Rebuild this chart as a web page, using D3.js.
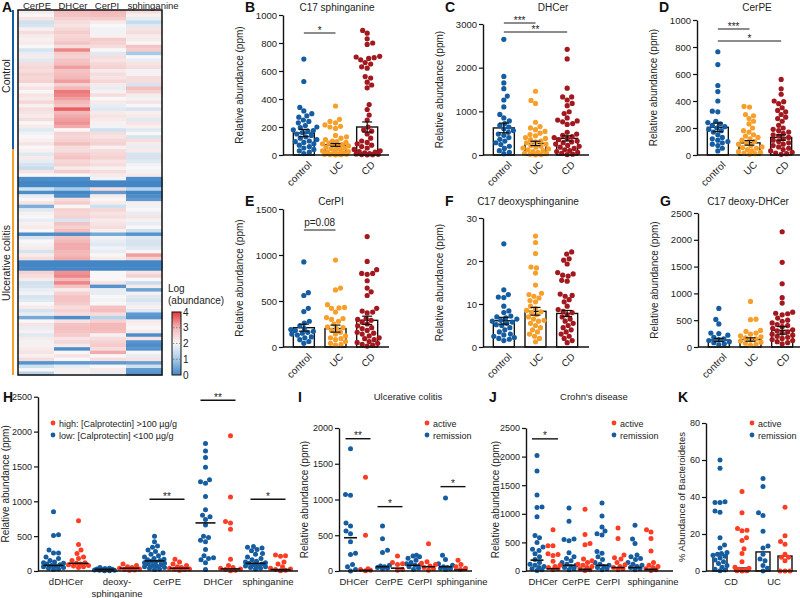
<!DOCTYPE html>
<html><head><meta charset="utf-8">
<script src="https://cdn.jsdelivr.net/npm/d3@7"></script>
<style>body{margin:0;background:#fff}svg{font-family:"Liberation Sans",Arial,Helvetica,sans-serif}</style>
</head><body><svg id="c" width="800" height="598"></svg>
<script>
// ---------------- DATA ----------------
const heatColumns = ["CerPE","DHCer","CerPI","sphinganine"];
const heatGroups = ["Control","Ulcerative colitis"];
const heatTicks = [0,1,2,3,4];
const heatControl = [
[2.2,2.9,3.0,2.4],[2.0,2.8,2.9,2.1],[2.3,2.6,2.7,1.8],[1.5,2.4,2.2,1.4],[1.6,2.3,2.0,1.7],
[2.1,2.5,1.9,2.3],[2.4,2.7,1.9,2.4],[2.2,2.5,2.1,2.2],[2.1,2.6,2.7,2.2],[2.2,2.8,2.6,2.0],
[2.0,2.4,2.4,2.8],[1.6,3.4,2.0,2.7],[1.8,2.7,1.7,1.0],[2.2,2.6,2.4,2.0],[1.7,2.8,2.3,1.8],
[2.4,2.9,2.5,2.3],[2.5,3.2,2.6,2.4],[2.4,2.8,2.2,1.9],[2.6,2.9,2.4,2.1],[2.5,3.0,2.3,2.4],
[2.6,3.2,2.5,2.4],[2.1,2.6,2.2,1.6],[2.3,3.0,1.8,2.9],[2.0,3.5,2.1,2.6],[2.3,3.4,2.4,2.2],
[2.2,3.2,2.0,1.9],[2.5,3.0,2.2,2.3],[2.1,2.8,1.8,2.0],[2.4,3.7,1.7,1.6],[2.3,3.0,2.2,2.1],
[2.2,3.1,2.3,2.2],[2.4,3.2,2.2,1.7],[2.0,3.3,2.1,2.3],[2.2,3.1,1.9,2.1],[1.7,2.0,1.5,1.7],
[1.9,2.6,2.4,2.0],[2.0,2.5,2.3,1.6],[2.1,2.6,2.5,2.4],[2.3,2.9,2.6,2.2],[2.0,2.4,2.1,1.8]];
const heatUC = [
[2.1,2.4,2.4,2.2],[1.7,2.7,2.5,1.6],[2.2,2.8,2.6,1.6],[1.8,2.5,2.3,1.7],[1.6,2.6,2.4,1.9],
[1.4,2.2,2.1,2.0],[2.3,2.7,2.4,1.9],[2.0,2.0,2.2,2.2],[0.1,0.1,1.9,0.1],[0.0,0.0,0.0,0.0],
[0.0,0.0,0.0,0.0],[1.5,1.0,2.4,1.2],[0.1,0.0,0.3,0.0],[1.8,0.1,2.2,0.1],[2.0,2.4,2.0,0.3],
[2.3,2.7,2.2,2.1],[0.6,2.0,1.5,1.9],[1.7,2.6,2.5,2.0],[2.1,2.5,2.3,1.8],[2.0,2.6,2.4,2.3],
[1.8,1.6,2.2,1.9],[2.1,2.8,2.3,1.8],[2.2,2.6,2.4,2.0],[2.0,2.9,2.1,1.5],[0.1,0.1,0.5,0.2],
[1.6,2.8,1.9,1.7],[2.0,3.0,1.8,1.6],[1.9,3.1,1.7,1.6],[2.2,3.1,1.9,1.7],[1.6,3.0,1.8,2.0],
[2.2,3.0,2.0,3.2],[2.4,3.1,2.2,2.6],[0.0,0.0,0.0,0.0],[0.0,0.0,0.0,0.0],[0.0,0.0,0.0,0.0],
[2.6,3.3,2.0,2.3],[2.4,3.4,2.0,2.6],[2.2,3.0,2.0,2.0],[1.5,3.4,2.3,1.4],[1.6,2.8,0.2,2.2],
[1.8,2.2,1.8,0.4],[1.9,2.6,1.8,2.1],[1.6,2.8,2.0,1.7],[1.7,2.8,1.9,1.6],[2.0,2.7,2.0,1.8],
[2.2,2.4,2.8,2.1],[1.6,2.6,2.9,1.7],[1.8,2.4,2.4,0.3],[0.5,0.1,1.2,0.2],[2.0,2.3,2.6,2.2],
[2.3,2.8,3.0,2.1],[1.8,2.9,3.0,2.0],[2.1,2.8,2.9,2.2],[1.7,2.7,2.1,0.1],[2.2,2.3,2.4,2.3],
[1.9,2.5,2.6,0.2],[2.1,2.2,2.7,0.1],[2.2,0.1,2.4,0.2],[2.3,2.0,3.1,2.0],[2.1,2.3,2.0,1.8],
[2.4,2.0,2.4,2.3],[0.2,0.3,0.3,0.4],[1.5,1.8,2.0,1.5],[2.0,2.1,2.2,0.3],[1.2,1.9,1.8,0.2]];

const groups3 = ["control","UC","CD"];
// B: C17 sphinganine
const bControl = [685,525,340,315,295,280,270,250,240,230,210,200,195,180,175,170,160,150,140,130,120,110,100,95,90,80,70,60,50,40,30,20,10];
const bUC = [350,255,240,230,215,205,200,190,140,130,120,110,100,95,90,85,80,75,70,65,60,55,50,45,40,35,30,25,20,15,10,8,5,5,3,2,1];
const bCD = [890,870,830,800,790,705,700,695,690,680,660,650,630,620,560,550,520,500,480,360,325,285,250,200,180,170,150,120,100,90,80,70,60,50,40,30,25,20,15,10,8,5,3,2,1];
const bMean = [157,72,200], bSem = [26,10,36];
// C: DHCer
const cControl = [2650,1800,1650,1520,1350,1260,1100,930,850,780,720,680,640,600,560,520,480,450,400,360,320,280,240,200,150,100,60,30];
const cUC = [1460,1250,1180,750,650,620,580,540,500,470,440,400,380,350,320,300,280,250,220,200,180,160,140,120,100,80,60,40,30,20,10,5];
const cCD = [2420,2200,1530,1330,1330,1260,1180,1130,990,950,850,800,780,760,720,700,520,480,450,420,400,380,350,320,300,280,250,220,200,180,150,120,100,80,60,40,20,10];
const cMean = [620,265,380], cSem = [110,50,60];
// D: CerPE
const dControl = [765,670,515,470,400,325,320,250,240,230,220,210,200,190,180,170,150,130,120,110,100,90,80,70,50,30];
const dUC = [360,355,300,290,270,250,230,200,180,170,150,140,130,120,110,100,90,80,70,60,55,50,40,30,25,20,15,10,5];
const dCD = [560,490,450,400,395,380,350,330,320,300,280,270,250,220,200,190,180,170,160,150,140,130,120,110,100,90,80,70,60,50,40,30,20,15,10,5];
const dMean = [205,90,130], dSem = [32,17,20];
// E: CerPI
const eControl = [925,590,560,420,385,280,260,230,200,190,180,170,160,150,140,130,110,100,80,60,40];
const eUC = [945,640,620,460,430,425,420,380,320,310,300,280,250,220,210,200,180,160,140,120,100,90,80,60,40,30,20];
const eCD = [1200,930,840,800,800,790,720,640,600,560,420,390,380,370,310,300,290,270,250,230,210,200,180,160,150,140,120,100,90,80,60,50,40,30,20,10];
const eMean = [210,200,290], eSem = [38,38,45];
// F: C17 deoxysphinganine
const fControl = [24,13.3,12.2,11.6,11.5,9.5,8.4,8.0,7.2,7.0,6.8,6.5,6.2,6.0,5.8,5.5,5.2,5.0,4.5,4.0,3.5,3.0,2.8,2.5,2.2,2.0,1.8,1.5];
const fUC = [25.8,24.3,21.7,18.6,18.4,17.2,14.4,12.5,12.2,11.8,11.4,10.8,10.5,9.5,9.0,8.5,8.2,8.0,7.5,7.0,6.5,6.2,6.0,5.5,5.0,4.5,4.0,3.5,3.0,2.5,2.0,1.2];
const fCD = [22.1,21.6,20.5,20.2,19.3,17.3,17.0,16.7,16.5,15.5,15.3,12.3,12.0,11.8,11.0,10.5,9.5,8.7,8.3,8.0,7.5,7.0,6.5,6.0,5.5,5.0,4.5,4.0,3.5,3.0,2.5,2.0,1.5,1.0];
const fMean = [6.1,8.3,7.8], fSem = [0.8,0.9,0.7];
// G: C17 deoxy-DHCer
const gControl = [720,515,430,260,250,220,180,150,140,120,100,80,60,40];
const gUC = [850,520,510,310,290,260,240,210,190,170,150,130,110,90,70,50,30];
const gCD = [2150,1580,1180,920,820,650,630,620,600,540,500,480,450,420,400,380,350,320,300,280,260,240,220,200,180,160,140,120,100,80,60];
const gMean = [130,140,310], gSem = [30,32,70];

// H: calprotectin low / high
const hCategories = [["dDHCer"],["deoxy-","sphinganine"],["CerPE"],["DHCer"],["sphinganine"]];
const hLegend = ["high: [Calprotectin] >100 µg/g","low: [Calprotectin] <100 µg/g"];
const hLow = [
 [850,520,510,300,260,260,200,180,150,130,120,110,100,90,80,70,60,50,40,30,20],
 [50,40,35,30,25,20,20,15,10,10,5,5],
 [500,420,360,340,300,280,260,240,220,200,180,170,160,150,140,130,120,110,100,90,80,70,60,50,40,30,20],
 [1830,1720,1630,1490,1310,1280,1260,1070,880,800,780,740,660,500,480,440,420,310,220,190,180,160,120,20],
 [350,340,330,310,290,250,240,200,180,160,140,130,120,110,100,90,80,70,60,50,40,30]];
const hHigh = [
 [720,380,300,250,200,180,150,120,110,100,90,80,70,60,50],
 [100,80,60,50,40,30,20,15,10],
 [170,130,100,80,60,50,40,30,25,20,10],
 [1940,1060,710,690,600,170,80,50,40,30,20,10,5],
 [230,220,210,130,100,60,40,30,20,10,5]];
const hLowLine = [80,25,145,690,110], hHighLine = [110,40,40,30,20];
// I: Ulcerative colitis remission / active
const ijCategories = ["DHCer","CerPE","CerPI","sphinganine"];
const statusLegend = ["active","remission"];
const iRemission = [
 [1710,1070,1060,670,630,560,520,410,250,230,90,60,20,0],
 [630,450,290,260,80,70,60,50,40,30],
 [220,210,200,180,150,120,100,90,80,60,40,20],
 [1020,220,160,100,80,60,50,40,30,20]];
const iActive = [
 [1310,500,30,20,10,5],
 [210,120,100,90,20,10],
 [380,130,110,90,70,50,30,10],
 [150,90,60,40,20]];
const iRemLine = [465,60,80,60], iActLine = [10,40,60,15];
// J: Crohn's disease remission / active
const jRemission = [
 [2020,1750,1330,1120,1110,950,620,580,500,420,380,360,300,250,200,150,120,100,80,60,40,20,10],
 [1100,870,560,550,530,320,250,220,180,150,120,100,80,60,40,20],
 [1190,960,770,700,650,630,340,310,250,200,150,120,100,80,60,40,20],
 [800,560,480,280,250,220,200,150,120,100,80,60,40,20]];
const jActive = [
 [720,440,440,300,290,270,170,100,80,60,40,20],
 [1080,640,480,460,210,180,150,120,100,80,60,40,20,10],
 [750,570,280,230,210,150,110,80,60,40,20],
 [720,680,570,350,150,100,80,60,40,20,10]];
const jRemLine = [190,100,100,60], jActLine = [40,30,60,30];
// K: % Bacteroidetes
const kCategories = ["CD","UC"];
const kRemission = [
 [60,55.5,37.5,37,37,32.5,31.8,18,14,12.5,10,9.5,9,8.5,8,7,6,5,4,3,2,1,0.5,0.2],
 [50,45.7,31.5,30,21.5,13.5,12.5,9,6.5,5.5,3,1.5,0]];
const kActive = [
 [43,31.5,23,22,21.8,18,16.5,12,9.5,5,2,1.5,1,0.5,0.2,0.1,0],
 [34.5,19,16,14.5,9,7.5,7.5,5.5,0,0,0]];
const kRemBar = [8.8,10.3], kActBar = [1.6,8.1];

// ---------------- DRAWING ----------------
const svg = d3.select("#c");
const BLUE = "#155da0", ORANGE = "#f6a02b", DARKRED = "#a1191f", RED = "#fd3c24";
const TXT = "#222";

function letter(t, x, y) {
  svg.append("text").attr("x", x).attr("y", y).attr("font-size", 14)
    .attr("font-weight", "bold").attr("fill", "#111").text(t);
}
function swarm(values, y, cx, r, maxW) {
  const pts = values.map(v => ({ v, y: y(v) })).sort((a, b) => b.y - a.y);
  const placed = [];
  const md = 2 * r;
  pts.forEach((p, i) => {
    const cands = [0];
    const sgn = i % 2 ? 1 : -1;
    for (let s = 0.5; s <= maxW; s += 0.5) { cands.push(sgn * s); cands.push(-sgn * s); }
    let best = 0, bestD = -1;
    for (const off of cands) {
      let minD = Infinity;
      for (const q of placed) {
        if (Math.abs(q.y - p.y) >= md) continue;
        const d = Math.hypot(q.x - (cx + off), q.y - p.y);
        if (d < minD) minD = d;
      }
      if (minD >= md) { best = off; break; }
      if (minD > bestD) { bestD = minD; best = off; }
    }
    p.x = cx + best;
    placed.push(p);
  });
  return placed;
}
function yAxis(g, y, ticks, fs) {
  const ax = d3.axisLeft(y).tickValues(ticks).tickSize(4).tickSizeOuter(0).tickPadding(2).tickFormat(d3.format("d"));
  const a = g.append("g").call(ax);
  a.select(".domain").attr("stroke", "#111").attr("stroke-width", 1.4);
  a.selectAll(".tick line").attr("stroke", "#111").attr("stroke-width", 1.2);
  a.selectAll(".tick text").attr("font-size", fs).attr("fill", TXT)
    .attr("font-family", "'Liberation Sans',Arial,sans-serif");
  return a;
}
function ylabel(text, x, yc, size) {
  svg.append("text").attr("transform", `translate(${x},${yc}) rotate(-90)`)
    .attr("text-anchor", "middle").attr("font-size", size || 10).attr("fill", TXT).text(text);
}
function sig(x1, x2, yl, label, color) {
  svg.append("line").attr("x1", x1).attr("x2", x2).attr("y1", yl).attr("y2", yl)
    .attr("stroke", color || "#666").attr("stroke-width", 1.4);
  const isStar = /^\*+$/.test(label);
  svg.append("text").attr("x", (x1 + x2) / 2).attr("y", isStar ? yl + 0.5 : yl - 4).attr("text-anchor", "middle")
    .attr("font-size", isStar ? 10 : 10).attr("fill", TXT).text(label);
}

// ---- Panel A heatmap ----
(function () {
  const x0 = 18, x1 = 162, y0 = 10, y1 = 375;
  const rows = heatControl.concat(heatUC);
  const xs = d3.scaleBand().domain(heatColumns).range([x0, x1]);
  const ys = d3.scaleBand().domain(d3.range(rows.length)).range([y0, y1]);
  const col = d3.scaleLinear().domain(heatTicks).range(["#4386c6", "#a6cae8", "#f8f6f6", "#f3b8b8", "#e4383b"]).clamp(true);
  const g = svg.append("g");
  rows.forEach((r, i) => r.forEach((v, j) => {
    g.append("rect").attr("x", xs(heatColumns[j])).attr("y", ys(i))
      .attr("width", xs.bandwidth() + 0.5).attr("height", ys.bandwidth() + 0.5).attr("fill", col(v));
  }));
  g.append("rect").attr("x", x0).attr("y", y0).attr("width", x1 - x0).attr("height", y1 - y0)
    .attr("fill", "none").attr("stroke", "#111").attr("stroke-width", 1.5);
  const hdrX = [37, 73, 107, 153];
  g.selectAll(".hc").data(heatColumns).join("text").attr("x", (d, i) => hdrX[i])
    .attr("y", 9).attr("text-anchor", "middle").attr("font-size", 9.5).attr("fill", TXT).text(d => d);
  const yMid = ys(heatControl.length);
  g.append("line").attr("x1", 13).attr("x2", 13).attr("y1", y0).attr("y2", yMid).attr("stroke", BLUE).attr("stroke-width", 2);
  g.append("line").attr("x1", 13).attr("x2", 13).attr("y1", yMid).attr("y2", y1).attr("stroke", ORANGE).attr("stroke-width", 2);
  ylabel(heatGroups[0], 10, 76, 10.5);
  ylabel(heatGroups[1], 10, 263, 10.5);
  letter("A", 2, 12);
  // colorbar
  const defs = svg.append("defs");
  const lg = defs.append("linearGradient").attr("id", "cb").attr("x1", 0).attr("x2", 0).attr("y1", 1).attr("y2", 0);
  heatTicks.forEach(t => lg.append("stop").attr("offset", t / 4).attr("stop-color", col(t)));
  const cbY = d3.scaleLinear().domain([0, 4]).range([375, 312]);
  svg.append("rect").attr("x", 172).attr("y", 312).attr("width", 9).attr("height", 63)
    .attr("fill", "url(#cb)").attr("stroke", "#111").attr("stroke-width", 1);
  heatTicks.forEach(t => {
    if (t % 4) svg.append("line").attr("x1", 173).attr("x2", 180).attr("y1", cbY(t)).attr("y2", cbY(t))
      .attr("stroke", "#555").attr("stroke-width", 0.6).attr("stroke-dasharray", "1.5,1.5");
    svg.append("text").attr("x", 183).attr("y", cbY(t) + 3.5).attr("font-size", 10).attr("fill", TXT).text(t);
  });
  svg.append("text").attr("x", 168).attr("y", 292).attr("font-size", 10).attr("fill", TXT).text("Log");
  svg.append("text").attr("x", 168).attr("y", 304).attr("font-size", 10).attr("fill", TXT).text("(abundance)");
})();

// ---- Panels B–G ----
function dotPanel(p) {
  const y = d3.scaleLinear().domain([0, p.max]).range([p.yb, p.yt]);
  const x = d3.scaleBand().domain(groups3).range([p.ax + 5, p.ax + 100]);
  const g = svg.append("g");
  groups3.forEach((c, i) => {
    g.append("rect").attr("x", x(c) + x.bandwidth() / 2 - 10.5).attr("width", 21)
      .attr("y", y(p.mean[i])).attr("height", y(0) - y(p.mean[i]))
      .attr("fill", "#fff").attr("stroke", "#111").attr("stroke-width", 1.4);
  });
  const cols = [BLUE, ORANGE, DARKRED];
  p.data.forEach((vals, i) => {
    const pts = swarm(vals, y, x(groups3[i]) + x.bandwidth() / 2, 2.6, 13);
    g.selectAll(null).data(pts).join("circle").attr("cx", d => d.x).attr("cy", d => d.y)
      .attr("r", 2.6).attr("fill", cols[i]);
  });
  groups3.forEach((c, i) => {
    const cx = x(c) + x.bandwidth() / 2;
    const hi = y(p.mean[i] + p.sem[i]), lo = y(Math.max(0, p.mean[i] - p.sem[i]));
    g.append("line").attr("x1", cx).attr("x2", cx).attr("y1", hi).attr("y2", lo).attr("stroke", "#111").attr("stroke-width", 1.2);
    [hi, lo].forEach(yy => g.append("line").attr("x1", cx - 5).attr("x2", cx + 5).attr("y1", yy).attr("y2", yy).attr("stroke", "#111").attr("stroke-width", 1.2));
  });
  g.append("g").attr("transform", `translate(${p.ax},0)`).call(gg => yAxis(gg, y, d3.range(0, p.max + 1, p.step), 9.5));
  g.append("line").attr("x1", p.ax).attr("x2", p.ax + 106).attr("y1", p.yb).attr("y2", p.yb).attr("stroke", "#111").attr("stroke-width", 1.4);
  g.selectAll(".cl").data(groups3).join("text")
    .attr("transform", d => `translate(${x(d) + x.bandwidth() / 2 + 6},${p.yb + 8}) rotate(-45)`)
    .attr("text-anchor", "end").attr("dy", "0.35em").attr("font-size", 10).attr("fill", TXT).text(d => d);
  svg.append("text").attr("x", p.tx).attr("y", p.ty).attr("text-anchor", "middle").attr("font-size", 10).attr("fill", TXT).text(p.title);
  ylabel("Relative abundance (ppm)", p.ax - 40, (p.yt + p.yb) / 2, 10);
  letter(p.letter, p.ax - 38, p.ty + 1);
  (p.sig || []).forEach(s => sig(x(groups3[s[0]]) + x.bandwidth() / 2, x(groups3[s[1]]) + x.bandwidth() / 2, s[2], s[3]));
}
dotPanel({ letter: "B", title: "C17 sphinganine", ax: 283, yt: 15, yb: 155, max: 1000, step: 200, tx: 337, ty: 11,
  data: [bControl, bUC, bCD], mean: bMean, sem: bSem, sig: [[0, 1, 33, "*"]] });
dotPanel({ letter: "C", title: "DHCer", ax: 483, yt: 24, yb: 155, max: 3000, step: 1000, tx: 553, ty: 11,
  data: [cControl, cUC, cCD], mean: cMean, sem: cSem, sig: [[0, 1, 23, "***"], [0, 2, 32, "**"]] });
dotPanel({ letter: "D", title: "CerPE", ax: 697, yt: 20, yb: 155, max: 1000, step: 200, tx: 757, ty: 11,
  data: [dControl, dUC, dCD], mean: dMean, sem: dSem, sig: [[0, 1, 29, "***"], [0, 2, 41, "*"]] });
dotPanel({ letter: "E", title: "CerPI", ax: 283, yt: 209, yb: 347, max: 1500, step: 500, tx: 331, ty: 205,
  data: [eControl, eUC, eCD], mean: eMean, sem: eSem, sig: [[0, 1, 230, "p=0.08"]] });
dotPanel({ letter: "F", title: "C17 deoxysphinganine", ax: 483, yt: 218, yb: 347, max: 30, step: 10, tx: 528, ty: 205,
  data: [fControl, fUC, fCD], mean: fMean, sem: fSem });
dotPanel({ letter: "G", title: "C17 deoxy-DHCer", ax: 698, yt: 213, yb: 347, max: 2500, step: 500, tx: 748, ty: 205,
  data: [gControl, gUC, gCD], mean: gMean, sem: gSem });

// ---- Panels H–K ----
function legend2(x, y, labels) {
  [RED, BLUE].forEach((c, i) => {
    svg.append("circle").attr("cx", x).attr("cy", y + i * 12).attr("r", 2.4).attr("fill", c);
    svg.append("text").attr("x", x + 6).attr("y", y + i * 12 + 3.5).attr("font-size", 9).attr("fill", TXT).text(labels[i]);
  });
}
function pairPanel(p) {
  const y = d3.scaleLinear().domain([0, p.max]).range([p.yb, p.yb - p.max * p.k]);
  const g = svg.append("g");
  const series = [{ d: p.left, col: BLUE, off: -p.off, line: p.leftLine }, { d: p.right, col: RED, off: p.off, line: p.rightLine }];
  if (p.bars) {
    series.forEach(s => s.line.forEach((v, i) => {
      g.append("rect").attr("x", p.centers[i] + s.off - p.bw / 2).attr("width", p.bw)
        .attr("y", y(v)).attr("height", y(0) - y(v)).attr("fill", "#fff").attr("stroke", "#111").attr("stroke-width", 1.4);
    }));
  }
  series.forEach(s => s.d.forEach((vals, i) => {
    const pts = swarm(vals, y, p.centers[i] + s.off, 2.5, p.sw);
    g.selectAll(null).data(pts).join("circle").attr("cx", d => d.x).attr("cy", d => d.y).attr("r", 2.5).attr("fill", s.col);
  }));
  if (!p.bars) {
    series.forEach(s => s.line.forEach((v, i) => {
      g.append("line").attr("x1", p.centers[i] + s.off - p.lw / 2).attr("x2", p.centers[i] + s.off + p.lw / 2)
        .attr("y1", y(v)).attr("y2", y(v)).attr("stroke", "#111").attr("stroke-width", 1.6);
    }));
  }
  g.append("g").attr("transform", `translate(${p.ax},0)`).call(gg => yAxis(gg, y, d3.range(0, p.max + 1, p.step), 9));
  g.append("line").attr("x1", p.ax).attr("x2", p.xEnd).attr("y1", p.yb).attr("y2", p.yb).attr("stroke", "#111").attr("stroke-width", 1.4);
  p.labels.forEach((lab, i) => {
    const lines = Array.isArray(lab) ? lab : [lab];
    const lx = p.labX ? p.labX[i] : p.centers[i];
    lines.forEach((t, j) => svg.append("text").attr("x", lx).attr("y", p.yb + 14 + j * 12)
      .attr("text-anchor", "middle").attr("font-size", 9.5).attr("fill", TXT).text(t));
  });
  ylabel(p.ylab, p.ylx, (p.yb + y(p.max)) / 2, p.ylfs || 10);
  letter(p.letter, p.lx, 402);
  if (p.title) svg.append("text").attr("x", p.tx).attr("y", 400).attr("text-anchor", "middle").attr("font-size", 9.5).attr("fill", TXT).text(p.title);
  legend2(p.legX, 423, p.legend);
  (p.sig || []).forEach(s => sig(p.centers[s[0]] - p.off - 5, p.centers[s[0]] + p.off + 5, y(s[1]), s[2], "#111"));
}
pairPanel({ letter: "H", lx: 3, ax: 38, xEnd: 298, yb: 571, k: 0.0697, max: 2500, step: 500,
  centers: [66, 117, 167, 218, 268], off: 12.5, sw: 10, lw: 20, labels: hCategories,
  left: hLow, right: hHigh, leftLine: hLowLine, rightLine: hHighLine,
  ylab: "Relative abundance (ppm)", ylx: 9, legX: 53, legend: hLegend,
  sig: [[2, 1030, "**"], [3, 2450, "**"], [4, 1030, "*"]] });
pairPanel({ letter: "I", lx: 298, ax: 339, xEnd: 472, yb: 571, k: 0.0715, max: 2000, step: 500,
  centers: [358, 390, 421, 453], labX: [354, 389, 420, 462], off: 7.5, sw: 7, lw: 13, labels: ijCategories,
  left: iRemission, right: iActive, leftLine: iRemLine, rightLine: iActLine,
  ylab: "Relative abundance (ppm)", ylx: 308, legX: 427, legend: statusLegend, title: "Ulcerative colitis", tx: 408,
  sig: [[0, 1850, "**"], [1, 900, "*"], [3, 1180, "*"]] });
pairPanel({ letter: "J", lx: 489, ax: 526, xEnd: 673, yb: 571, k: 0.0572, max: 2500, step: 500,
  centers: [545, 577, 610, 643], labX: [543, 576, 608, 653], off: 8, sw: 7, lw: 13, labels: ijCategories,
  left: jRemission, right: jActive, leftLine: jRemLine, rightLine: jActLine,
  ylab: "Relative abundance (ppm)", ylx: 499, legX: 614, legend: statusLegend, title: "Crohn's disease", tx: 594,
  sig: [[0, 2310, "*"]] });
pairPanel({ letter: "K", lx: 678, ax: 706, xEnd: 797, yb: 571, k: 1.85, max: 80, step: 20,
  centers: [731, 774], off: 11, sw: 7, bars: true, bw: 14, labels: kCategories,
  left: kRemission, right: kActive, leftLine: kRemBar, rightLine: kActBar,
  ylab: "% Abundance of Bacteroidetes", ylx: 685, ylfs: 9.5, legX: 752, legend: statusLegend });
</script></body></html>
